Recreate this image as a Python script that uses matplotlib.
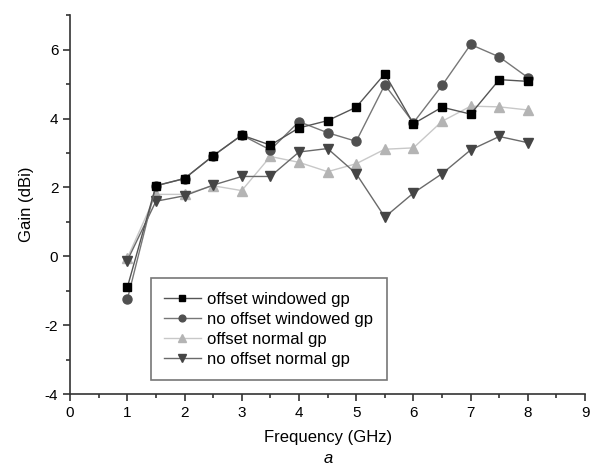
import numpy as np
import matplotlib
matplotlib.use('Agg')
import matplotlib.pyplot as plt
from matplotlib.ticker import MultipleLocator

plt.rcParams['font.family'] = ['Liberation Sans', 'DejaVu Sans']
plt.rcParams['axes.unicode_minus'] = False

freq = [1, 1.5, 2, 2.5, 3, 3.5, 4, 4.5, 5, 5.5, 6, 6.5, 7, 7.5, 8]
offset_windowed = [-0.90, 2.05, 2.26, 2.92, 3.52, 3.23, 3.73, 3.94, 4.33, 5.30, 3.85, 4.33, 4.13, 5.13, 5.08]
nooffset_windowed = [-1.25, 2.05, 2.26, 2.92, 3.52, 3.09, 3.91, 3.59, 3.34, 4.98, 3.88, 4.96, 6.15, 5.79, 5.19]
offset_normal = [-0.05, 1.80, 1.80, 2.05, 1.91, 2.90, 2.73, 2.46, 2.69, 3.11, 3.15, 3.92, 4.36, 4.34, 4.25]
nooffset_normal = [-0.12, 1.60, 1.76, 2.07, 2.32, 2.32, 3.03, 3.13, 2.40, 1.14, 1.84, 2.40, 3.09, 3.48, 3.30]

fig = plt.figure(figsize=(5.94, 4.75), dpi=100)
ax = fig.add_axes([0.118, 0.170, 0.867, 0.798])

ax.plot(freq, offset_windowed, color='#555555', lw=1.0, marker='s', ms=6,
        mfc='black', mec='black', label='offset windowed gp', zorder=4)
ax.plot(freq, nooffset_windowed, color='#777777', lw=1.0, marker='o', ms=6.5,
        mfc='#505050', mec='#505050', label='no offset windowed gp', zorder=3)
ax.plot(freq, offset_normal, color='#c8c8c8', lw=1.0, marker='^', ms=7,
        mfc='#b4b4b4', mec='#b4b4b4', label='offset normal gp', zorder=2)
ax.plot(freq, nooffset_normal, color='#6a6a6a', lw=1.0, marker='v', ms=7,
        mfc='#454545', mec='#454545', label='no offset normal gp', zorder=2)

ax.set_xlim(0, 9)
ax.set_ylim(-4, 7)
ax.xaxis.set_major_locator(MultipleLocator(1))
ax.xaxis.set_minor_locator(MultipleLocator(0.5))
ax.yaxis.set_major_locator(MultipleLocator(2))
ax.yaxis.set_minor_locator(MultipleLocator(1))
ax.spines['top'].set_visible(False)
ax.spines['right'].set_visible(False)
for s in ['left', 'bottom']:
    ax.spines[s].set_color('#333333')
    ax.spines[s].set_linewidth(1.2)
ax.tick_params(which='major', direction='out', length=5, width=1.2, color='#333333', labelsize=11)
ax.tick_params(which='minor', direction='out', length=3, width=1.2, color='#333333')

ax.set_xlabel('Frequency (GHz)', fontsize=12, labelpad=7)
ax.set_ylabel('Gain (dBi)', fontsize=12, labelpad=8)

leg = ax.legend(loc='lower left', bbox_to_anchor=(0.14, 0.016), fontsize=12,
                frameon=True, fancybox=False, handlelength=2.2, handletextpad=0.4,
                borderpad=0.8, labelspacing=0.3, markerscale=0.75)
leg.get_frame().set_edgecolor('#555555')
leg.get_frame().set_linewidth(1.2)

fig.text(0.552, 0.025, 'a', fontsize=12, style='italic', ha='center')

fig.savefig('out.png', dpi=100)
